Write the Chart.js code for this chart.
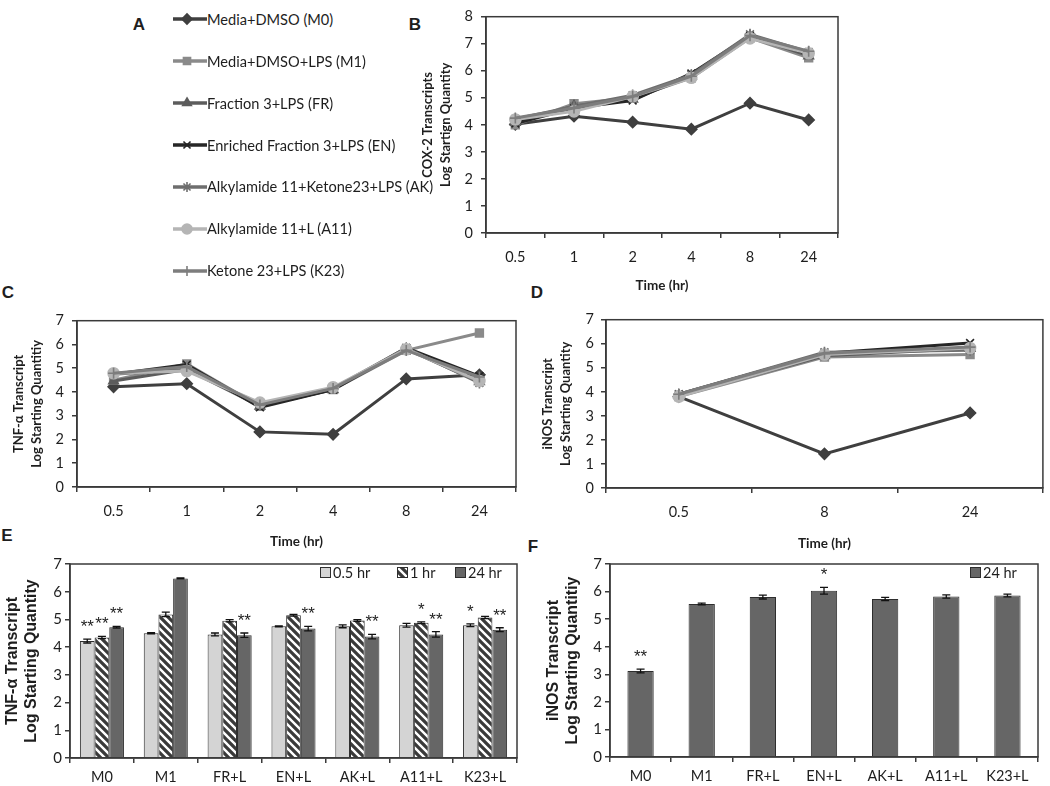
<!DOCTYPE html>
<html>
<head>
<meta charset="utf-8">
<script src="https://cdn.jsdelivr.net/npm/chart.js@4.4.0/dist/chart.umd.min.js"></script>
<style>
  html, body { margin: 0; padding: 0; background: #fff; }
  #page { position: relative; width: 1050px; height: 786px; overflow: hidden;
          font-family: Lato, "Open Sans", sans-serif; color: #1e1e1e; }
  #page canvas.chart { position: absolute; }
  .panel { position: absolute; font: bold 17px "Liberation Sans", Arial, sans-serif;
           transform: translate(-50%, -50%); }
  .legrow { position: absolute; left: 173px; height: 20px; display: flex; align-items: center;
            font-size: 14.6px; white-space: nowrap; }
  .legrow canvas { display: block; }
  .barleg { position: absolute; height: 16px; display: flex; align-items: center;
            font-size: 14.5px; white-space: nowrap; }
  .barleg canvas { display: block; margin-right: 2px; }
</style>
</head>
<body>
<div id="page">
  <div class="panel" style="left:139px;top:25px">A</div>
  <div class="panel" style="left:415px;top:25px">B</div>
  <div class="panel" style="left:8px;top:293px">C</div>
  <div class="panel" style="left:537px;top:293px">D</div>
  <div class="panel" style="left:7px;top:536px">E</div>
  <div class="panel" style="left:533px;top:547px">F</div>

  <div id="legendA"></div>

  <canvas id="cox2" class="chart" width="431" height="294" style="left:419px;top:0px"></canvas>
  <canvas id="tnfLine" class="chart" width="515" height="246" style="left:10px;top:304px"></canvas>
  <canvas id="inosLine" class="chart" width="511" height="248" style="left:539px;top:304px"></canvas>
  <canvas id="tnfBar" class="chart" width="527" height="234" style="left:3px;top:552px"></canvas>
  <canvas id="inosBar" class="chart" width="496" height="234" style="left:544px;top:552px"></canvas>

  <div id="legendE"></div>
  <div id="legendF"></div>
</div>

<script>
// ---- data ----
const seriesNames = ['Media+DMSO (M0)', 'Media+DMSO+LPS (M1)', 'Fraction 3+LPS (FR)',
  'Enriched Fraction 3+LPS (EN)', 'Alkylamide 11+Ketone23+LPS (AK)',
  'Alkylamide 11+L (A11)', 'Ketone 23+LPS (K23)'];

// B: COX-2
const timesCox = ['0.5', '1', '2', '4', '8', '24'];
const cox2M0  = [4.02, 4.32, 4.10, 3.84, 4.80, 4.18];
const cox2M1  = [4.00, 4.78, 5.00, 5.74, 7.22, 6.48];
const cox2FR  = [4.10, 4.70, 4.95, 5.80, 7.28, 6.55];
const cox2EN  = [4.05, 4.62, 4.90, 5.90, 7.30, 6.62];
const cox2AK  = [4.22, 4.68, 5.10, 5.85, 7.35, 6.70];
const cox2A11 = [4.20, 4.50, 5.05, 5.74, 7.20, 6.65];
const cox2K23 = [4.25, 4.62, 5.05, 5.80, 7.30, 6.72];

// C: TNF-alpha time course
const timesTnf = ['0.5', '1', '2', '4', '8', '24'];
const tnfM0  = [4.22, 4.35, 2.32, 2.22, 4.55, 4.72];
const tnfM1  = [4.50, 5.18, 3.40, 4.10, 5.75, 6.48];
const tnfFR  = [4.46, 4.95, 3.40, 4.10, 5.80, 4.43];
const tnfEN  = [4.75, 5.15, 3.35, 4.10, 5.85, 4.67];
const tnfAK  = [4.75, 4.96, 3.50, 4.15, 5.85, 4.38];
const tnfA11 = [4.79, 4.88, 3.55, 4.20, 5.80, 4.46];
const tnfK23 = [4.79, 5.07, 3.45, 4.15, 5.75, 4.63];

// D: iNOS time course
const timesInos = ['0.5', '8', '24'];
const inosM0  = [3.80, 1.42, 3.12];
const inosM1  = [3.80, 5.45, 5.55];
const inosFR  = [3.85, 5.50, 5.80];
const inosEN  = [3.90, 5.60, 6.03];
const inosAK  = [3.90, 5.65, 5.73];
const inosA11 = [3.80, 5.55, 5.82];
const inosK23 = [3.90, 5.60, 5.86];

// E: TNF-alpha bars
const barCats = ['M0', 'M1', 'FR+L', 'EN+L', 'AK+L', 'A11+L', 'K23+L'];
const tnfBarLabels = ['0.5 hr', '1 hr', '24 hr'];
const tnf05  = [4.22, 4.50, 4.46, 4.75, 4.75, 4.79, 4.79];
const tnf1   = [4.35, 5.18, 4.95, 5.15, 4.96, 4.88, 5.07];
const tnf24  = [4.72, 6.48, 4.43, 4.67, 4.38, 4.46, 4.63];
const tnf05Err = [0.07, 0.02, 0.05, 0.02, 0.05, 0.07, 0.05];
const tnf1Err  = [0.04, 0.08, 0.04, 0.03, 0.03, 0.03, 0.04];
const tnf24Err = [0.03, 0.02, 0.08, 0.08, 0.08, 0.10, 0.07];
const tnf05Sig = ['**', '', '', '', '', '', '*'];
const tnf1Sig  = ['**', '', '', '', '', '*', ''];
const tnf24Sig = ['**', '', '**', '**', '**', '**', '**'];

// F: iNOS bars at 24 hr
const inosBarLabel = '24 hr';
const inos24    = [3.12, 5.55, 5.80, 6.03, 5.73, 5.82, 5.86];
const inos24Err = [0.07, 0.03, 0.07, 0.12, 0.06, 0.06, 0.05];
const inos24Sig = ['**', '', '', '*', '', '', ''];

// ---- styles ----
const FONT = 'Lato, "Open Sans", sans-serif';
const ARIAL = '"Liberation Sans", Arial, sans-serif';
const AXIS = '#3a3a3a';
const TEXT = '#1e1e1e';
const lineColors = ['#3f3f3f', '#8a8a8a', '#5c5c5c', '#262626', '#6e6e6e', '#b5b5b5', '#7d7d7d'];
const lineMarkers = ['rectRot', 'rect', 'triangle', 'crossRot', 'star', 'circle', 'cross'];

function stripePattern() {
  const c = document.createElement('canvas');
  c.width = 8; c.height = 8;
  const g = c.getContext('2d');
  g.fillStyle = '#3a3a3a';
  g.fillRect(0, 0, 8, 8);
  g.strokeStyle = '#ffffff';
  g.lineWidth = 2.4;
  g.beginPath();
  g.moveTo(-2, -2); g.lineTo(10, 10);
  g.moveTo(-2, 6);  g.lineTo(2, 10);
  g.moveTo(6, -2);  g.lineTo(10, 2);
  g.stroke();
  return g.createPattern(c, 'repeat');
}
const STRIPES = stripePattern();
const barFills = ['#d4d4d4', STRIPES, '#666666'];

// plot-area frame
const boxPlugin = {
  id: 'box',
  afterDatasetsDraw(chart) {
    const {ctx, chartArea: a} = chart;
    ctx.save();
    ctx.strokeStyle = AXIS;
    ctx.lineWidth = 1.5;
    ctx.strokeRect(a.left, a.top, a.right - a.left, a.bottom - a.top);
    ctx.restore();
  }
};

// error bars + significance stars
const errorPlugin = {
  id: 'errors',
  afterDatasetsDraw(chart) {
    const {ctx} = chart;
    const y = chart.scales.y;
    chart.data.datasets.forEach((ds, i) => {
      if (!ds.errors) return;
      const meta = chart.getDatasetMeta(i);
      meta.data.forEach((el, j) => {
        const v = ds.data[j], e = ds.errors[j];
        const yt = y.getPixelForValue(v + e), yb = y.getPixelForValue(v - e);
        ctx.save();
        ctx.strokeStyle = '#111';
        ctx.lineWidth = 1.3;
        ctx.beginPath();
        ctx.moveTo(el.x, yt); ctx.lineTo(el.x, yb);
        ctx.moveTo(el.x - 4, yt); ctx.lineTo(el.x + 4, yt);
        ctx.moveTo(el.x - 4, yb); ctx.lineTo(el.x + 4, yb);
        ctx.stroke();
        const s = ds.sig && ds.sig[j];
        if (s) {
          ctx.fillStyle = TEXT;
          ctx.font = '17px ' + ARIAL;
          ctx.textAlign = 'center';
          ctx.textBaseline = 'alphabetic';
          ctx.fillText(s, el.x, yt - 7);
        }
        ctx.restore();
      });
    });
  }
};

function axes(g) {
  return {
    x: {
      offset: true,
      grid: {offset: true, drawOnChartArea: false, color: AXIS, lineWidth: 1.5, tickLength: 5},
      border: {color: AXIS, width: 1.5},
      ticks: {color: TEXT, font: {family: FONT, size: g.xSize || 14.5}, padding: g.xPad,
              maxRotation: 0, autoSkip: false},
      title: {display: !!g.xTitle, text: g.xTitle || '', color: TEXT, padding: 0,
              font: {family: FONT, size: 13.5, weight: 'bold', lineHeight: 1.3}},
      afterFit(s) { s.height = g.axisH; }
    },
    y: {
      min: 0, max: g.yMax,
      grid: {drawOnChartArea: false, color: AXIS, lineWidth: 1.5, tickLength: 5},
      border: {color: AXIS, width: 1.5},
      ticks: {stepSize: 1, color: TEXT, font: {family: FONT, size: g.ySize || 14.5}, padding: g.yPad},
      title: {display: true, text: g.yTitle, color: TEXT, padding: 0, font: g.yTitleFont},
      afterFit(s) { s.width = g.axisW; }
    }
  };
}

const lineTitleFont = {family: FONT, size: 13, weight: 'bold', lineHeight: 1.35};

function lineChart(id, labels, rows, g) {
  new Chart(document.getElementById(id), {
    type: 'line',
    data: {
      labels: labels,
      datasets: rows.map((r, i) => ({
        label: seriesNames[i],
        data: r,
        borderColor: lineColors[i],
        backgroundColor: lineColors[i],
        pointBackgroundColor: lineColors[i],
        pointBorderColor: lineColors[i],
        borderWidth: 3,
        pointStyle: lineMarkers[i],
        pointRadius: 5.5,
        pointBorderWidth: 1.6,
        tension: 0,
        order: rows.length - i
      }))
    },
    options: {
      responsive: false,
      animation: false,
      layout: {padding: {top: g.padTop, right: g.padRight, left: 0, bottom: 0}},
      plugins: {legend: {display: false}, tooltip: {enabled: false}},
      scales: axes(g)
    },
    plugins: [boxPlugin]
  });
}

lineChart('cox2', timesCox,
  [cox2M0, cox2M1, cox2FR, cox2EN, cox2AK, cox2A11, cox2K23],
  {yMax: 8, axisW: 67, axisH: 61, padTop: 6, padRight: 12, xPad: 11, yPad: 8,
   xTitle: 'Time (hr)', yTitle: ['COX-2 Transcripts', 'Log Startign Quantity'], yTitleFont: lineTitleFont});

lineChart('tnfLine', timesTnf,
  [tnfM0, tnfM1, tnfFR, tnfEN, tnfAK, tnfA11, tnfK23],
  {yMax: 7, axisW: 67, axisH: 63, padTop: 8, padRight: 9, xPad: 11, yPad: 8,
   xTitle: 'Time (hr)', yTitle: ['TNF-\u03b1 Transcript', 'Log Starting Quantitiy'], yTitleFont: lineTitleFont});

lineChart('inosLine', timesInos,
  [inosM0, inosM1, inosFR, inosEN, inosAK, inosA11, inosK23],
  {yMax: 7, axisW: 67, axisH: 64, padTop: 8, padRight: 2, xPad: 11, yPad: 7,
   xTitle: 'Time (hr)', yTitle: ['iNOS Transcript', 'Log Starting Quantity'], yTitleFont: lineTitleFont});

const barTitleFont = {family: ARIAL, size: 16, weight: 'bold', lineHeight: 1.2};

new Chart(document.getElementById('tnfBar'), {
  type: 'bar',
  data: {
    labels: barCats,
    datasets: [tnf05, tnf1, tnf24].map((d, i) => ({
      label: tnfBarLabels[i],
      data: d,
      errors: [tnf05Err, tnf1Err, tnf24Err][i],
      sig: [tnf05Sig, tnf1Sig, tnf24Sig][i],
      backgroundColor: barFills[i],
      borderColor: '#2e2e2e',
      borderWidth: 1,
      categoryPercentage: 0.69,
      barPercentage: 1.0
    }))
  },
  options: {
    responsive: false,
    animation: false,
    layout: {padding: {top: 7, right: 13, left: 0, bottom: 0}},
    plugins: {legend: {display: false}, tooltip: {enabled: false}},
    scales: axes({yMax: 7, axisW: 67, axisH: 28, xPad: 6, yPad: 3, xSize: 14.5, ySize: 15,
                  yTitle: ['TNF-\u03b1 Transcript', 'Log Starting Quantity'], yTitleFont: barTitleFont})
  },
  plugins: [boxPlugin, errorPlugin]
});

new Chart(document.getElementById('inosBar'), {
  type: 'bar',
  data: {
    labels: barCats,
    datasets: [{
      label: inosBarLabel,
      data: inos24,
      errors: inos24Err,
      sig: inos24Sig,
      backgroundColor: '#666666',
      borderColor: '#2e2e2e',
      borderWidth: 1,
      categoryPercentage: 1.0,
      barPercentage: 0.43
    }]
  },
  options: {
    responsive: false,
    animation: false,
    layout: {padding: {top: 7, right: 2, left: 0, bottom: 0}},
    plugins: {legend: {display: false}, tooltip: {enabled: false}},
    scales: axes({yMax: 7, axisW: 66, axisH: 29, xPad: 6, yPad: 3, xSize: 14.5, ySize: 15,
                  yTitle: ['iNOS Transcript', 'Log Starting Quantitiy'], yTitleFont: barTitleFont})
  },
  plugins: [boxPlugin, errorPlugin]
});

// ---- legend A: line + marker swatches ----
const legA = document.getElementById('legendA');
seriesNames.forEach((name, i) => {
  const row = document.createElement('div');
  row.className = 'legrow';
  row.style.top = (19.3 + i * 41.9 - 10) + 'px';
  const cv = document.createElement('canvas');
  cv.width = 34; cv.height = 20;
  const g = cv.getContext('2d');
  g.strokeStyle = lineColors[i];
  g.fillStyle = lineColors[i];
  g.lineWidth = 3.5;
  g.beginPath(); g.moveTo(0, 10); g.lineTo(34, 10); g.stroke();
  g.lineWidth = 1.6;
  if (Chart.helpers && Chart.helpers.drawPoint) {
    Chart.helpers.drawPoint(g, {pointStyle: lineMarkers[i], radius: 5, borderWidth: 1.6, rotation: 0}, 14, 10);
  }
  const t = document.createElement('span');
  t.textContent = name;
  row.appendChild(cv);
  row.appendChild(t);
  legA.appendChild(row);
});

// ---- bar legends ----
function barLegend(parent, x, y, fill, text) {
  const row = document.createElement('div');
  row.className = 'barleg';
  row.style.left = x + 'px';
  row.style.top = (y - 8) + 'px';
  const cv = document.createElement('canvas');
  cv.width = 11; cv.height = 11;
  const g = cv.getContext('2d');
  g.fillStyle = fill;
  g.fillRect(0.5, 0.5, 10, 10);
  g.strokeStyle = '#2e2e2e';
  g.lineWidth = 1;
  g.strokeRect(0.5, 0.5, 10, 10);
  const t = document.createElement('span');
  t.textContent = text;
  row.appendChild(cv);
  row.appendChild(t);
  parent.appendChild(row);
}
const legE = document.getElementById('legendE');
[320, 397, 455].forEach((x, i) => barLegend(legE, x, 572, barFills[i], tnfBarLabels[i]));
barLegend(document.getElementById('legendF'), 970, 572, '#666666', inosBarLabel);
</script>
</body>
</html>
